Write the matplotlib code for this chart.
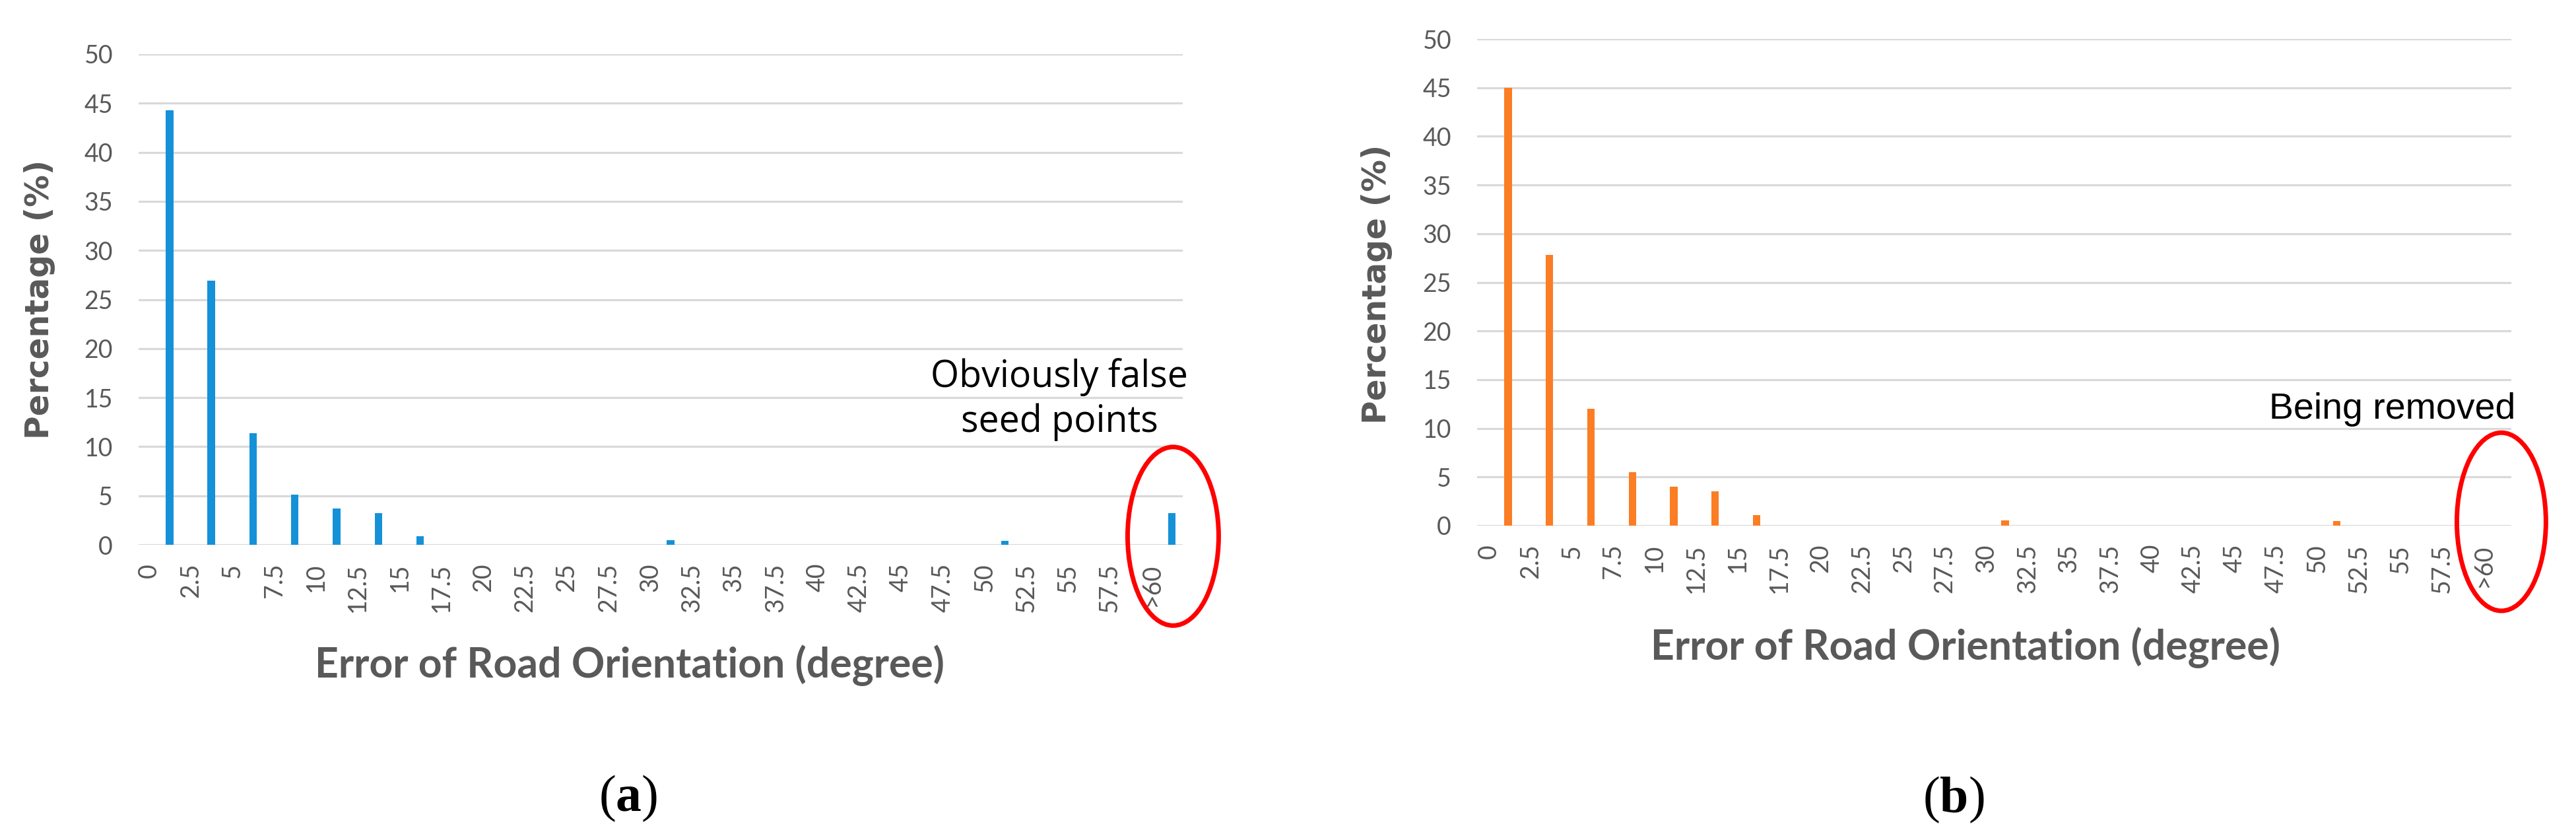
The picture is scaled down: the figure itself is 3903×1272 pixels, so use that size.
import numpy as np
import matplotlib.pyplot as plt
from matplotlib.patches import Ellipse

plt.rcParams['mathtext.fontset'] = 'custom'
plt.rcParams['mathtext.rm'] = 'Liberation Serif'
plt.rcParams['mathtext.bf'] = 'Liberation Serif:bold'

# Kategorien (Fehlerklassen in Grad)
kategorien = ['0', '2.5', '5', '7.5', '10', '12.5', '15', '17.5', '20', '22.5', '25', '27.5',
              '30', '32.5', '35', '37.5', '40', '42.5', '45', '47.5', '50', '52.5', '55', '57.5', '>60']

# Prozentwerte (a) mit falschen Saatpunkten, (b) nach dem Entfernen
prozent_a = [44.3, 26.9, 11.4, 5.1, 3.7, 3.2, 0.85, 0, 0, 0, 0, 0, 0.45, 0, 0, 0, 0, 0, 0, 0,
             0.4, 0, 0, 0, 3.2]
prozent_b = [45.0, 27.8, 12.0, 5.5, 4.0, 3.5, 1.1, 0, 0, 0, 0, 0, 0.55, 0, 0, 0, 0, 0, 0, 0,
             0.5, 0, 0, 0, 0]

grau = '#595959'
W, H = 3903, 1272
fig = plt.figure(figsize=(W / 100, H / 100), dpi=100)


def px(x0, y0, x1, y1):
    # Pixelrechteck -> Figurenkoordinaten
    return [x0 / W, 1 - y1 / H, (x1 - x0) / W, (y1 - y0) / H]


def panel(rect, werte, farbe, xlim, versatz):
    ax = fig.add_axes(rect)
    x = np.arange(len(kategorien))
    ax.bar(x + versatz, werte, width=0.18, color=farbe, zorder=3)
    ax.set_xlim(*xlim)
    ax.set_ylim(0, 50)
    ax.set_yticks(np.arange(0, 51, 5))
    ax.set_xticks(x)
    ax.set_xticklabels(kategorien, rotation=90, va='top', ha='center')
    ax.tick_params(axis='both', length=0, labelcolor=grau, labelsize=27)
    ax.tick_params(axis='x', pad=20)
    ax.tick_params(axis='y', pad=28)
    for lab in ax.get_xticklabels() + ax.get_yticklabels():
        lab.set_family('Lato')
    ax.grid(axis='y', color='#d9d9d9', linewidth=2.3, zorder=0)
    ax.set_axisbelow(True)
    for s in ax.spines.values():
        s.set_visible(False)
    return ax


ax1 = panel(px(210, 82, 1792, 825), prozent_a, '#1591d8', (-0.25, 24.75), 0.49)
ax2 = panel(px(2238, 59, 3805, 796), prozent_b, '#fb7d24', (-0.29, 24.68), 0.46)

# Achsentitel
for xc, yb in [(954, 1026), (2978, 999)]:
    fig.text(xc / W, 1 - yb / H, 'Error of Road Orientation (degree)', ha='center', va='baseline',
             fontsize=45, fontweight='bold', color=grau, family='Lato')
for xc, yc in [(60, 453), (2086, 430)]:
    fig.text(xc / W, 1 - yc / H, 'Percentage (%)', rotation=90, ha='center', va='center',
             fontsize=35, fontweight='bold', color=grau, family='DejaVu Sans')

# Markierungen
ax1.add_patch(Ellipse((24.52, 0.87), 2.18, 18.2, fill=False, edgecolor='red', linewidth=5,
                      clip_on=False, zorder=5))
ax2.add_patch(Ellipse((24.44, 0.4), 2.15, 18.3, fill=False, edgecolor='red', linewidth=5,
                      clip_on=False, zorder=5))
ax1.text(21.8, 16.1, 'Obviously false', ha='center', va='baseline', fontsize=40, family='Open Sans')
ax1.text(21.8, 11.5, 'seed points', ha='center', va='baseline', fontsize=40, family='Open Sans')
ax2.text(21.8, 11.0, 'Being removed', ha='center', va='baseline', fontsize=40,
         family='Liberation Sans')

# Unterschriften
fig.text(952 / W, 1 - 1228 / H, r'$(\mathbf{a})$', ha='center', va='baseline', fontsize=56)
fig.text(2960 / W, 1 - 1230 / H, r'$(\mathbf{b})$', ha='center', va='baseline', fontsize=56)

fig.savefig('out.png', dpi=100, facecolor='white')
